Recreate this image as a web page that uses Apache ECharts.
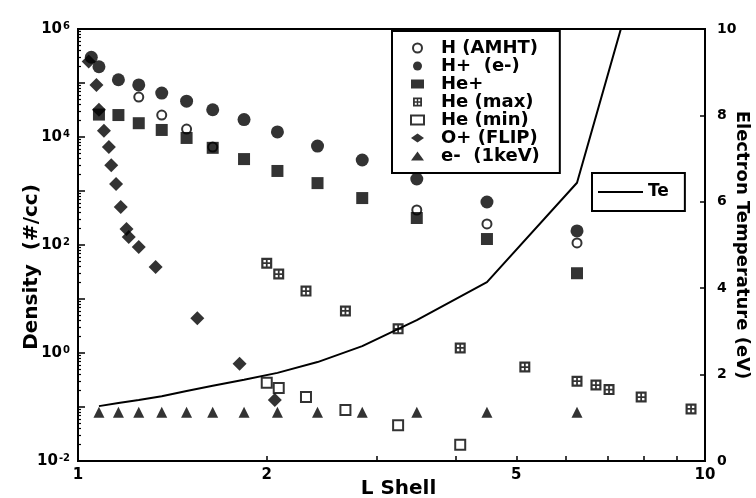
<!DOCTYPE html>
<html><head><meta charset="utf-8">
<script src="https://cdn.jsdelivr.net/npm/echarts@6/dist/echarts.min.js"></script>
<style>html,body{margin:0;padding:0;background:#fff}#c{width:756px;height:498px}</style>
</head><body><div id="c"></div>
<script>
const FONT = 'DejaVu Sans';

// Tick labels / tick positions
const xTickLabels = [1, 2, 5, 10];
const xTicks = [1, 2, 3, 4, 5, 6, 7, 8, 9, 10];
const yTickLabels = [1e-2, 1, 1e2, 1e4, 1e6];
const yMajorTicks = [1e-2, 1e-1, 1, 1e1, 1e2, 1e3, 1e4, 1e5, 1e6];
const yMinorTicks = [];
for (let e = -2; e < 6; e++) for (let m = 2; m <= 9; m++) yMinorTicks.push(m * Math.pow(10, e));

// Series data (L shell, value)
const hAmhtL = [1.25, 1.36, 1.49, 1.64, 3.47, 4.49, 6.25];
const hAmhtV = [5.5e4, 2.55e4, 1.4e4, 6.5e3, 445, 245, 109];

const hPlusL = [1.05, 1.08, 1.16, 1.25, 1.36, 1.49, 1.64, 1.84, 2.08, 2.41, 2.84, 3.47, 4.49, 6.25];
const hPlusV = [3.0e5, 2.0e5, 1.15e5, 9.2e4, 6.5e4, 4.6e4, 3.2e4, 2.1e4, 1.24e4, 6.8e3, 3.75e3, 1.67e3, 625, 182];

const hePlusL = [1.08, 1.16, 1.25, 1.36, 1.49, 1.64, 1.84, 2.08, 2.41, 2.84, 3.47, 4.49, 6.25];
const hePlusV = [2.6e4, 2.55e4, 1.8e4, 1.35e4, 9.6e3, 6.3e3, 3.9e3, 2.35e3, 1.4e3, 740, 316, 129, 30];

const heMaxL = [2.0, 2.09, 2.31, 2.67, 3.24, 4.07, 5.16, 6.25, 6.70, 7.03, 7.91, 9.50];
const heMaxV = [46, 29, 14, 6.0, 2.8, 1.24, 0.55, 0.30, 0.255, 0.21, 0.153, 0.092];

const heMinL = [2.0, 2.09, 2.31, 2.67, 3.24, 4.07];
const heMinV = [0.28, 0.225, 0.153, 0.088, 0.046, 0.020];

const oPlusL = [1.04, 1.07, 1.08, 1.10, 1.12, 1.13, 1.15, 1.17, 1.195, 1.205, 1.25, 1.33, 1.55, 1.81, 2.06];
const oPlusV = [2.5e5, 9.2e4, 3.2e4, 1.3e4, 6.5e3, 3.0e3, 1.35e3, 506, 198, 140, 92, 39, 4.4, 0.63, 0.135];

const eL = [1.08, 1.16, 1.25, 1.36, 1.49, 1.64, 1.84, 2.08, 2.41, 2.84, 3.47, 4.49, 6.25];
const eV = [0.08, 0.08, 0.08, 0.08, 0.08, 0.08, 0.08, 0.08, 0.08, 0.08, 0.08, 0.08, 0.08];

const teL = [1.08, 1.16, 1.25, 1.36, 1.49, 1.64, 1.84, 2.08, 2.41, 2.84, 3.47, 4.49, 6.25, 8.0];
const teV = [1.27, 1.34, 1.41, 1.50, 1.62, 1.74, 1.88, 2.04, 2.29, 2.66, 3.26, 4.14, 6.44, 11.9];

const zip = (a, b) => a.map((v, i) => [v, b[i]]);
const dotSquare = 'path://M0,0H10V10H0Z M2,2V4.2H4.2V2Z M5.8,2V4.2H8V2Z M2,5.8V8H4.2V5.8Z M5.8,5.8V8H8V5.8Z';

const txt = {color: '#000', fontFamily: FONT, fontWeight: 'bold'};

function scat(name, L, V, symbol, size, empty) {
  return {
    name, type: 'scatter', xAxisIndex: 0, yAxisIndex: 0,
    data: zip(L, V), symbol, symbolSize: size,
    itemStyle: empty ? {color: '#000', borderColor: '#000', borderWidth: 2} : {color: '#000'},
    emphasis: {disabled: true}
  };
}

const chart = echarts.init(document.getElementById('c'), null, {renderer: 'canvas'});
chart.setOption({
  animation: false,
  backgroundColor: '#fff',
  grid: {left: 78, right: 51, top: 29, bottom: 37, outerBoundsMode: 'none', containLabel: false,
         show: true, borderColor: '#000', borderWidth: 2, backgroundColor: 'transparent'},
  legend: [{
    data: ['H (AMHT)', 'H+  (e-)', 'He+', 'He (max)', 'He (min)', 'O+ (FLIP)', 'e-  (1keV)'],
    orient: 'vertical', left: 392, top: 31,
    padding: [8, 20, 8, 18],
    itemWidth: 13, itemHeight: 9, itemGap: 0,
    borderColor: '#000', borderWidth: 2, backgroundColor: '#fff',
    textStyle: Object.assign({fontSize: 18, lineHeight: 18, padding: [0, 0, 0, 12]}, txt),
    selectedMode: false
  }, {
    data: [{name: 'Te', icon: 'rect'}],
    orient: 'vertical', left: 592, top: 173,
    padding: [10, 16, 10, 6],
    itemWidth: 45, itemHeight: 2,
    borderColor: '#000', borderWidth: 2, backgroundColor: '#fff',
    textStyle: Object.assign({fontSize: 17, lineHeight: 18}, txt),
    selectedMode: false
  }],
  xAxis: [{
    type: 'log', logBase: 10, min: 1, max: 10,
    name: 'L Shell', nameLocation: 'middle', nameGap: 18, nameMoveOverlap: false,
    nameTextStyle: Object.assign({fontSize: 20, padding: [0, 0, 0, 14], verticalAlign: 'top'}, txt),
    axisLine: {lineStyle: {color: '#000', width: 2}},
    axisTick: {inside: true, length: 5, customValues: xTicks, lineStyle: {color: '#000', width: 1.5}},
    axisLabel: Object.assign({customValues: xTickLabels, margin: 7, fontSize: 15}, txt),
    splitLine: {show: false}
  }],
  yAxis: [{
    type: 'log', logBase: 10, min: 1e-2, max: 1e6, position: 'left',
    name: 'Density  (#/cc)', nameLocation: 'middle', nameGap: 36, nameMoveOverlap: false,
    nameTextStyle: Object.assign({fontSize: 20, padding: [0, 44, 0, 0]}, txt),
    axisLine: {lineStyle: {color: '#000', width: 2}},
    axisTick: {inside: true, length: 7, customValues: yMajorTicks, lineStyle: {color: '#000', width: 1.5}},
    axisLabel: {
      customValues: yTickLabels, margin: 8,
      formatter: v => '{b|10}{s|' + Math.round(Math.log10(v)) + '}',
      rich: {
        b: Object.assign({fontSize: 15}, txt),
        s: Object.assign({fontSize: 10, verticalAlign: 'top', padding: [0, 0, 6, 1]}, txt)
      }
    },
    splitLine: {show: false}
  }, {
    type: 'log', logBase: 10, min: 1e-2, max: 1e6, position: 'left',
    axisLine: {show: false},
    axisTick: {inside: true, length: 3, customValues: yMinorTicks, lineStyle: {color: '#000', width: 1.2}},
    axisLabel: {show: false},
    splitLine: {show: false}
  }, {
    type: 'value', min: 0, max: 10, interval: 2, position: 'right',
    name: 'Electron Temperature (eV)', nameLocation: 'middle', nameGap: 28, nameRotate: -90, nameMoveOverlap: false,
    nameTextStyle: Object.assign({fontSize: 18}, txt),
    axisLine: {lineStyle: {color: '#000', width: 2}},
    axisTick: {inside: true, length: 5, lineStyle: {color: '#000', width: 1.5}},
    axisLabel: Object.assign({margin: 12, fontSize: 14}, txt),
    splitLine: {show: false}
  }],
  series: [
    scat('H (AMHT)', hAmhtL, hAmhtV, 'emptyCircle', 9, true),
    scat('H+  (e-)', hPlusL, hPlusV, 'circle', 13),
    scat('He+', hePlusL, hePlusV, 'rect', 12),
    scat('He (max)', heMaxL, heMaxV, dotSquare, 11),
    scat('He (min)', heMinL, heMinV, 'emptyRect', 10, true),
    scat('O+ (FLIP)', oPlusL, oPlusV, 'diamond', 14),
    scat('e-  (1keV)', eL, eV, 'triangle', 11),
    {
      name: 'Te', type: 'line', xAxisIndex: 0, yAxisIndex: 2,
      data: zip(teL, teV), symbol: 'none', clip: true,
      lineStyle: {color: '#000', width: 2}, itemStyle: {color: '#000'},
      emphasis: {disabled: true}
    }
  ]
});
</script></body></html>
